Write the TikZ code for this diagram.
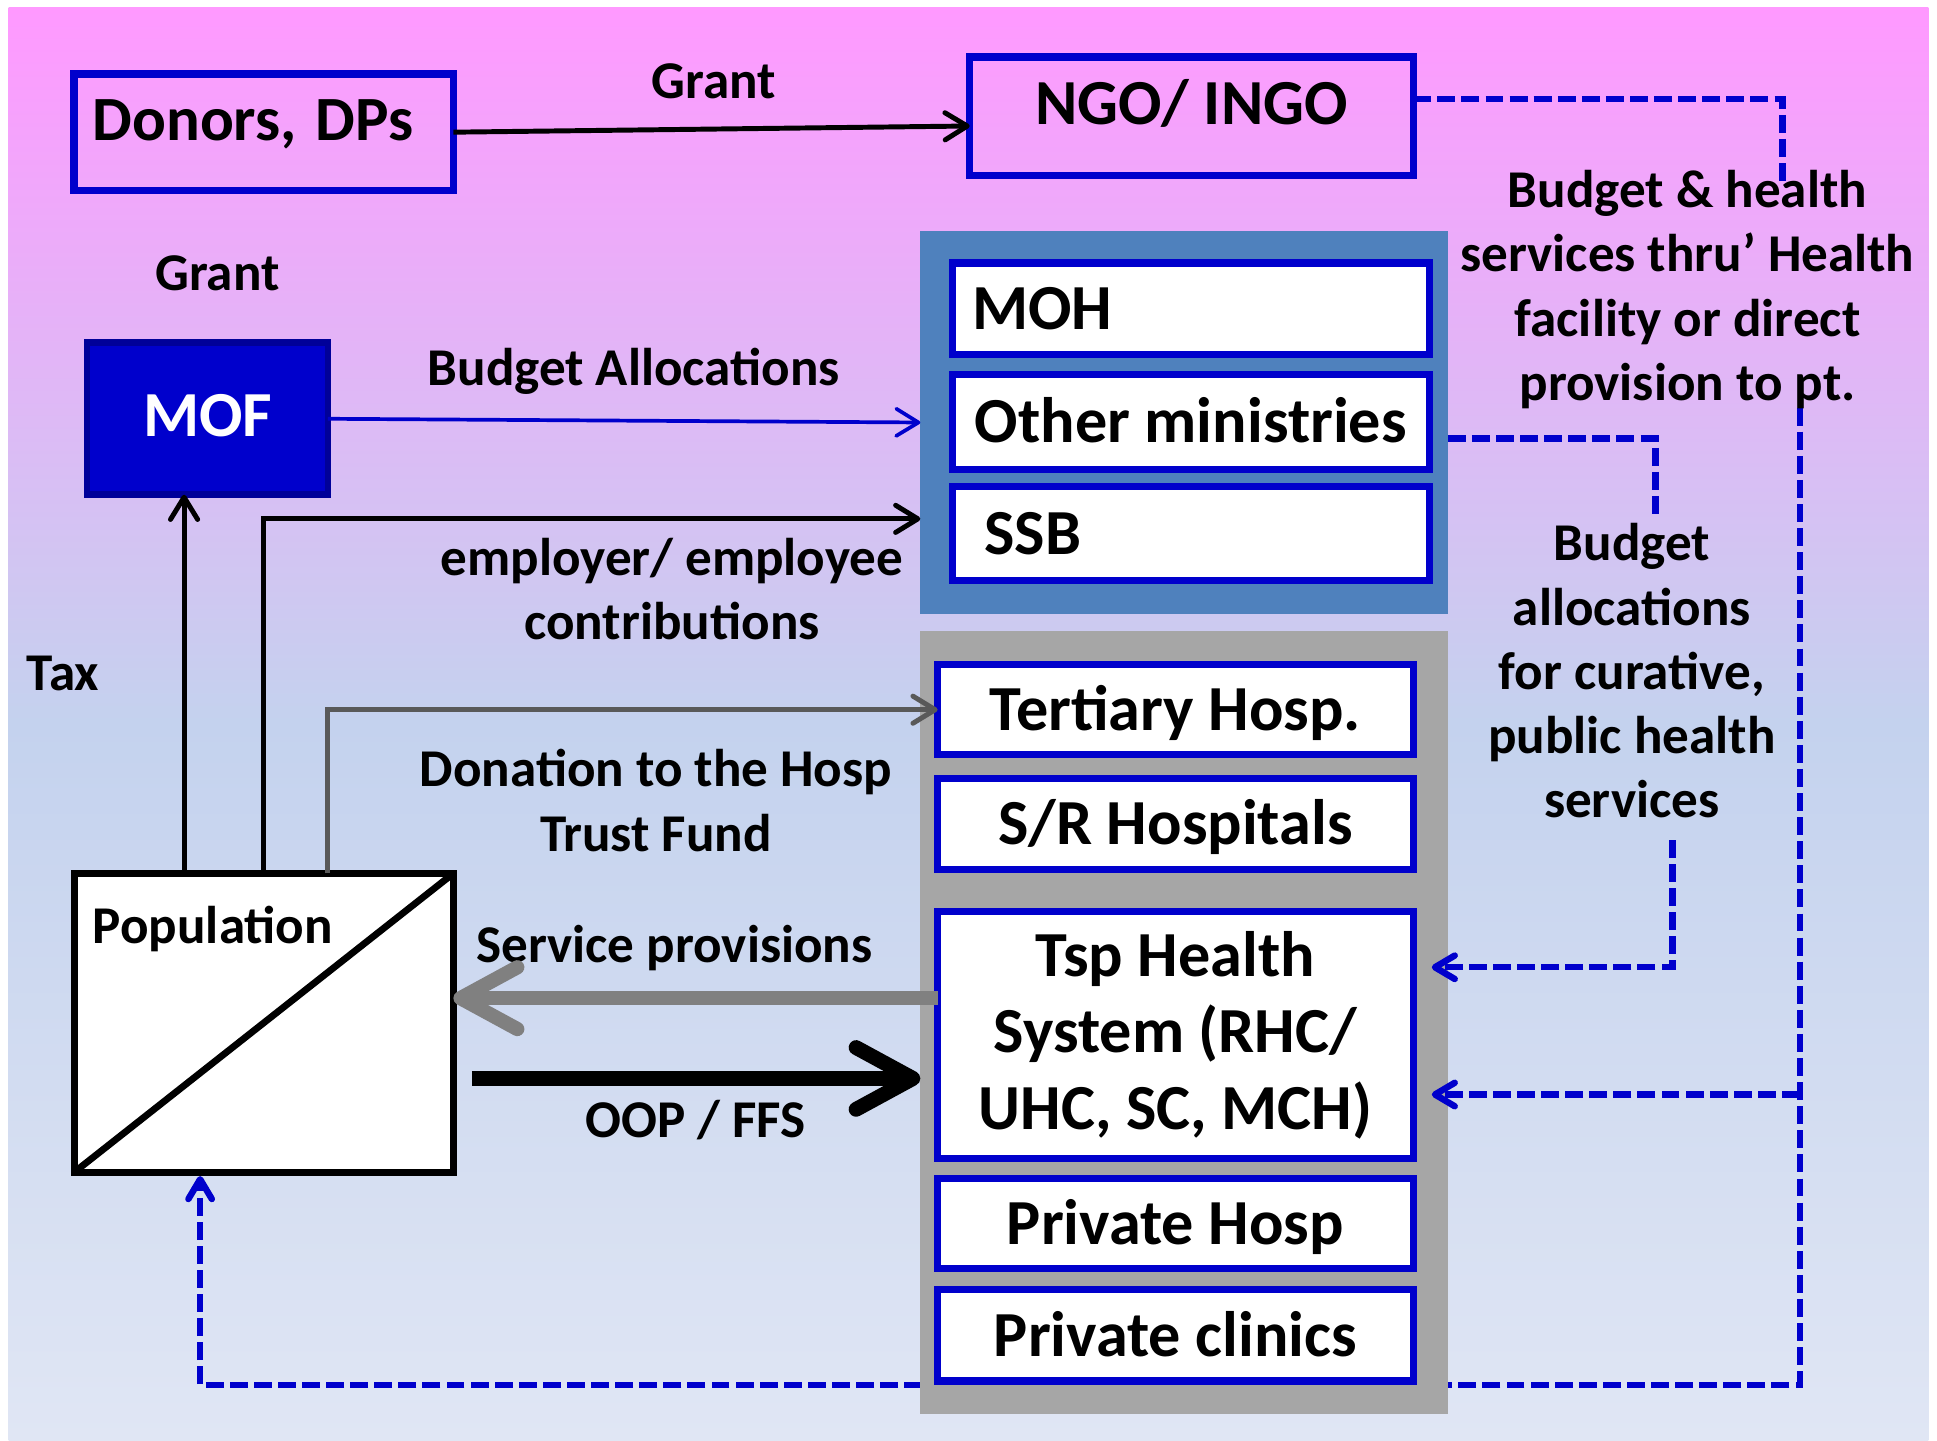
\documentclass[tikz,border=0pt]{standalone}
\usepackage{fontspec}
\setmainfont{Carlito}
\usetikzlibrary{arrows.meta,calc}
\definecolor{bgtop}{HTML}{FF99FF}
\definecolor{bgmid}{HTML}{C4D2EE}
\definecolor{bgbot}{HTML}{E0E6F4}
\definecolor{bord}{HTML}{0000CC}
\definecolor{mofb}{HTML}{000099}
\definecolor{panelblue}{HTML}{4F81BD}
\definecolor{panelgray}{HTML}{A6A6A6}
\definecolor{dongray}{HTML}{595959}
\definecolor{svcgray}{HTML}{808080}
\pgfdeclarelayer{bgA}
\pgfdeclarelayer{bgB}
\pgfsetlayers{bgA,bgB,main}
\begin{document}
\begin{tikzpicture}[x=1pt,y=-1pt,
  box/.style={draw=bord,line width=6pt,inner sep=0pt,outer sep=0pt,
    font=\bfseries\fontsize{52}{62}\selectfont,text height=34pt,text depth=0pt},
  wbox/.style={box,fill=white},
  panel/.style={inner sep=0pt,outer sep=0pt},
  lbl/.style={font=\bfseries\fontsize{43}{52}\selectfont,inner sep=0pt,align=center},
  arr/.style={line width=4pt,-{Straight Barb[length=18pt,width=22pt,round]}},
  thk/.style={line width=11.5pt,-{Straight Barb[length=46pt,width=50pt,round]}},
  dsh/.style={draw=bord,line width=5.2pt,dash pattern=on 14.5pt off 5pt},
  dsharr/.style={dsh,-{Straight Barb[length=16pt,width=19pt,round]}}
]
\useasboundingbox (0,0) rectangle (1568,1166);
\begin{pgfonlayer}{bgA}
\shade[top color=bgtop,bottom color=bgbot,middle color=bgmid] (7,6) rectangle (1561,1166);
\end{pgfonlayer}

% top row
\node[box,minimum width=307pt,minimum height=94pt,text width=277pt,align=left,text depth=20pt,font=\bfseries\fontsize{51}{62}\selectfont] (donors) at (213.5,107) {Donors,\kern-2pt{} DPs};
\node[box,minimum width=359pt,minimum height=96pt,text depth=20pt] (ngo) at (964.5,94) {NGO/ INGO};

% MOF
\node[draw=mofb,fill=bord,line width=5.5pt,inner sep=0pt,outer sep=0pt,minimum width=195pt,minimum height=123pt,
  text=white,font=\bfseries\fontsize{52}{60}\selectfont,text height=34pt,text depth=6pt] (mof) at (168,339) {MOF};

% ministries panel
\node[panel,fill=panelblue,minimum width=427pt,minimum height=310pt] (bpanel) at (958.5,342) {};
\node[wbox,minimum width=386pt,minimum height=74pt,text width=354pt,align=left] (moh) at (964,250) {MOH};
\node[wbox,minimum width=386pt,minimum height=77pt] (other) at (964,341.5) {Other ministries};
\node[wbox,minimum width=386pt,minimum height=76pt,text width=334pt,align=left] (ssb) at (964,432) {SSB};

% providers panel
\node[panel,fill=panelgray,minimum width=427pt,minimum height=634pt] (gpanel) at (958.5,828) {};
\node[wbox,minimum width=385pt,minimum height=73pt] (tert) at (951.5,574.5) {Tertiary Hosp.};
\node[wbox,minimum width=385pt,minimum height=74pt] (srh) at (951.5,667) {S/R Hospitals};
\node[wbox,minimum width=385pt,minimum height=200pt,align=center,text height=,text depth=] (tsp) at (951.5,838) {Tsp Health\\System (RHC/\\UHC, SC, MCH)};
\node[wbox,minimum width=385pt,minimum height=73pt] (privh) at (951.5,990.5) {Private Hosp};
\node[wbox,minimum width=385pt,minimum height=74pt] (privc) at (951.5,1081) {Private clinics};

% population
\node[draw=black,fill=white,line width=5.5pt,inner sep=0pt,outer sep=0pt,minimum width=307pt,minimum height=242pt] (pop) at (213.5,828) {};
\draw[line width=5.5pt] (pop.south west) -- (pop.north east);
\node[font=\bfseries\fontsize{43}{52}\selectfont,inner sep=0pt,anchor=base west] (popt) at ($(pop.north west)+(15,57)$) {Population};

% labels (base = baseline of the last line)
\node[lbl,anchor=base] (lgrant1) at (578,80) {Grant};
\node[lbl,anchor=base] (lgrant2) at (176,235) {Grant};
\node[lbl,anchor=base] (lbudget) at (513,312) {Budget Allocations};
\node[lbl,anchor=base] (lemp) at (544,518) {employer/ employee\\contributions};
\node[lbl,anchor=base] (ltax) at (51,559) {Tax};
\node[lbl,anchor=base] (ldon) at (531,689) {Donation to the Hosp\\Trust Fund};
\node[lbl,anchor=base] (lsvc) at (546,779) {Service provisions};
\node[lbl,anchor=base] (loop) at (563,921) {OOP / FFS};
\node[lbl,anchor=base] (lngo) at (1366,324) {Budget \& health\\services thru’ Health\\facility or direct\\provision to pt.};
\node[lbl,anchor=base] (lba) at (1321,662) {Budget\\allocations\\for curative,\\public health\\services};

% solid connectors
\draw[arr] (donors.east) -- ($(ngo.west)+(0,8)$);
\draw[arr,draw=bord,line width=3pt] (mof.east) -- (bpanel.west);
\draw[arr] (pop.north) |- ($(bpanel.west)+(0,78)$);
\coordinate (taxs) at ($(pop.north)+(-64.5,0)$);
\draw[arr] (taxs) -- (taxs |- mof.south);
\coordinate (dons) at ($(pop.north)+(51.5,0)$);
\draw[arr,draw=dongray] (dons) |- (tert.west);
\coordinate (svs) at ($(tsp.west)+(0,-30)$);
\draw[thk,draw=svcgray] (svs) -- (svs -| pop.east);
\coordinate (oops) at ($(pop.east)+(15,45)$);
\draw[thk,line width=12pt] (oops) -- (oops -| gpanel.west);

% dashed connectors
\coordinate (ngoend) at (1443,150);
\draw[dsh] ($(ngo.east)+(0,-14)$) -| (ngoend);
\coordinate (omend) at (1340,420);
\draw[dsh] ($(bpanel.east)+(0,13)$) -| (omend);
\coordinate (bas) at (1354,680);
\draw[dsharr] (bas) |- ($(tsp.east)+(15,-55)$);
\coordinate (rtop) at (1457,330);
\begin{pgfonlayer}{bgB}
\draw[dsharr] (rtop) |- ($(pop.south)+(-51.5,172)$) -- ($(pop.south)+(-51.5,3)$);
\end{pgfonlayer}
\coordinate (brt) at ($(tsp.east)+(15,48)$);
\draw[dsharr] (rtop |- brt) -- (brt);
\end{tikzpicture}
\end{document}
